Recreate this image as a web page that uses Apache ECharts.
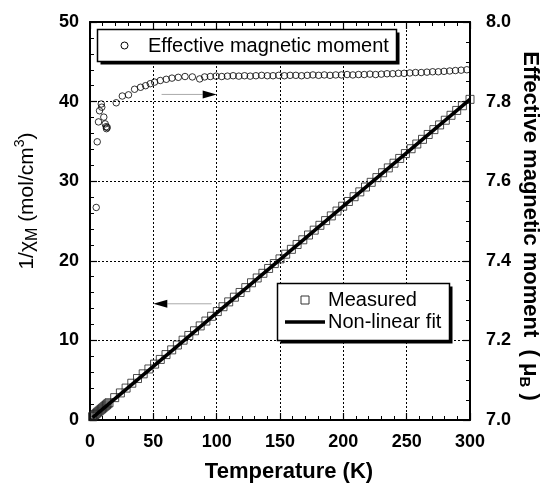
<!DOCTYPE html>
<html><head><meta charset="utf-8">
<script src="https://cdn.jsdelivr.net/npm/echarts@6/dist/echarts.min.js"></script>
<style>html,body{margin:0;padding:0;background:#fff}#c{width:541px;height:483px}</style>
</head><body><div id="c"></div>
<script>
// ---- data ----
const tempMeasured = [
  2,3,4,5,6,7,8,9,10,11,12,13,14,15,
  19.5,24,28.5,33,37.5,42,46.5,51,55.5,60,
  64.5,69,73.5,78,82.5,87,91.5,96,100.5,105,
  109.5,114,118.5,123,127.5,132,136.5,141,145.5,150,
  154.5,159,163.5,168,172.5,177,181.5,186,190.5,195,
  199.5,204,208.5,213,217.5,222,226.5,231,235.5,240,
  244.5,249,253.5,258,262.5,267,271.5,276,280.5,285,
  289.5,294,300
];
const invChi = [
  0.42,0.55,0.69,0.83,0.97,1.10,1.24,1.37,1.50,1.64,1.77,1.90,2.04,2.17,
  2.81,3.40,4.01,4.62,5.21,5.80,6.41,7.02,7.61,8.22,
  8.81,9.42,10.03,10.62,11.21,11.82,12.43,13.03,13.62,14.23,
  14.84,15.43,16.02,16.63,17.24,17.84,18.43,19.04,19.65,20.24,
  20.83,21.44,22.05,22.64,23.24,23.85,24.46,25.05,25.64,26.25,
  26.86,27.45,28.05,28.66,29.27,29.86,30.45,31.06,31.67,32.26,
  32.86,33.47,34.08,34.67,35.26,35.87,36.48,37.07,37.66,38.28,
  38.89,39.48,40.28
];
const fitTemp = [2, 300];
const fitInvChi = [0.30, 40.28];
const tempMoment = [
  4.9,5.7,6.7,7.5,8.9,9.3,10.9,12.0,12.8,13.0,13.6,
  20.7,25.5,30.4,35.2,39.9,43.9,47.6,51.0,55.5,60.2,64.7,69.7,75.0,80.8,86.6,90.5,95.0,
  99.5,104,108.5,113,117.5,122,126.5,131,135.5,140,
  144.5,149,153.5,158,162.5,167,171.5,176,180.5,185,
  189.5,194,198.5,203,207.5,212,216.5,221,225.5,230,
  234.5,239,243.5,248,252.5,257,261.5,266,270.5,275,
  279.5,284,288.5,293,297.5
];
const moment = [
  7.534,7.699,7.749,7.777,7.794,7.786,7.761,7.744,7.737,7.732,7.735,
  7.797,7.814,7.817,7.831,7.836,7.840,7.845,7.849,7.853,7.856,7.859,7.861,7.863,7.862,7.857,7.862,7.863,
  7.864,7.863,7.864,7.865,7.864,7.865,7.864,7.865,7.866,7.865,
  7.865,7.866,7.865,7.866,7.866,7.865,7.866,7.867,7.866,7.867,
  7.866,7.867,7.867,7.868,7.867,7.868,7.868,7.869,7.868,7.869,
  7.870,7.870,7.871,7.871,7.872,7.873,7.873,7.874,7.875,7.875,
  7.876,7.877,7.878,7.879,7.880
];
const xRange = [0, 300, 50];
const leftRange = [0, 50, 10];
const rightRange = [7.0, 8.0, 0.2];
const seriesNames = ['Effective magnetic moment', 'Measured', 'Non-linear fit'];
// arrow annotations in (temperature, left-axis) units: [fromT, toT, level]
const arrowMoment = [56.5, 100, 40.9];
const arrowInvChi = [96, 50, 14.6];

const FONT = "Arial, 'Liberation Sans', Helvetica, sans-serif";
const zip = (a, b) => a.map((v, i) => [v, b[i]]);

const chart = echarts.init(document.getElementById('c'), null, {renderer: 'canvas'});

const axisLine = {show: true, onZero: false, lineStyle: {color: '#000', width: 2}};
const tickLbl = {fontSize: 18, fontWeight: 'bold', color: '#000', fontFamily: FONT};
const dotted = {show: true, lineStyle: {color: '#000', width: 1, type: [2, 2]}};
const majorTick = {inside: true, length: 7, lineStyle: {color: '#000', width: 1.2}};

chart.setOption({
  animation: false,
  backgroundColor: '#fff',
  grid: {left: 90, right: 71, top: 22, bottom: 63},
  xAxis: [
    {type: 'value', position: 'bottom', min: xRange[0], max: xRange[1], interval: xRange[2],
     axisLine, axisTick: majorTick,
     minorTick: {show: true, splitNumber: 5, length: 4, lineStyle: {color: '#000', width: 1}},
     axisLabel: Object.assign({margin: 13}, tickLbl), splitLine: dotted},
    {type: 'value', position: 'top', min: xRange[0], max: xRange[1], interval: xRange[2],
     axisLine, axisTick: majorTick,
     minorTick: {show: true, splitNumber: 5, length: 4, lineStyle: {color: '#000', width: 1}},
     axisLabel: {show: false}, splitLine: {show: false}}
  ],
  yAxis: [
    {type: 'value', position: 'left', min: leftRange[0], max: leftRange[1], interval: leftRange[2],
     axisLine, axisTick: majorTick,
     minorTick: {show: true, splitNumber: 5, length: 4, lineStyle: {color: '#000', width: 1}},
     axisLabel: Object.assign({margin: 11}, tickLbl), splitLine: dotted},
    {type: 'value', position: 'right', min: rightRange[0], max: rightRange[1], interval: rightRange[2],
     axisLine, axisTick: majorTick,
     minorTick: {show: true, splitNumber: 4, length: 4, lineStyle: {color: '#000', width: 1}},
     axisLabel: Object.assign({margin: 16, formatter: v => v.toFixed(1)}, tickLbl), splitLine: {show: false}}
  ],
  series: [
    {name: seriesNames[1], type: 'scatter', xAxisIndex: 0, yAxisIndex: 0, data: zip(tempMeasured, invChi),
     symbol: 'rect', symbolSize: 8, z: 2,
     itemStyle: {color: 'rgba(255,255,255,0)', borderColor: '#222', borderWidth: 1}},
    {name: seriesNames[2], type: 'line', xAxisIndex: 0, yAxisIndex: 0, data: zip(fitTemp, fitInvChi),
     symbol: 'none', showSymbol: false, z: 3, lineStyle: {color: '#000', width: 3.6}, itemStyle: {color: '#000'}},
    {name: seriesNames[0], type: 'scatter', xAxisIndex: 0, yAxisIndex: 1, data: zip(tempMoment, moment),
     symbol: 'circle', symbolSize: 6.5, z: 2,
     itemStyle: {color: 'rgba(255,255,255,0)', borderColor: '#000', borderWidth: 1}}
  ]
});

function arrow(spec) {
  const from = chart.convertToPixel({xAxisIndex: 0, yAxisIndex: 0}, [spec[0], spec[2]]);
  const tip = chart.convertToPixel({xAxisIndex: 0, yAxisIndex: 0}, [spec[1], spec[2]]);
  const dir = tip[0] > from[0] ? 1 : -1;
  const headLen = 14, half = 4;
  const base = tip[0] - dir * headLen;
  return [
    {type: 'line', shape: {x1: from[0], y1: from[1], x2: base, y2: tip[1]}, style: {stroke: '#aaa', lineWidth: 1}, z: 10},
    {type: 'polygon', shape: {points: [[tip[0], tip[1]], [base, tip[1] - half], [base, tip[1] + half]]}, style: {fill: '#000'}, z: 10}
  ];
}

function legendBox(x, y, w, h) {
  return [
    {type: 'rect', shape: {x: x + 3, y: y + 3, width: w, height: h}, style: {fill: '#000'}, z: 20},
    {type: 'rect', shape: {x: x, y: y, width: w, height: h}, style: {fill: '#fff', stroke: '#000', lineWidth: 1.5}, z: 21}
  ];
}
function legendText(txt, x, y) {
  return {type: 'text', x: x, y: y, z: 22,
    style: {text: txt, font: '20px ' + FONT, fill: '#000', align: 'left', verticalAlign: 'middle'}};
}

chart.setOption({
  graphic: [].concat(
    arrow(arrowMoment), arrow(arrowInvChi),
    legendBox(97.5, 29.5, 299, 32),
    [{type: 'circle', shape: {cx: 124.5, cy: 45.5, r: 3.5}, style: {fill: 'none', stroke: '#000', lineWidth: 1}, z: 22},
     legendText(seriesNames[0], 148, 46)],
    legendBox(277.5, 283.5, 172, 57),
    [{type: 'rect', shape: {x: 301, y: 296, width: 8, height: 8}, style: {fill: 'none', stroke: '#333', lineWidth: 1}, z: 22},
     legendText(seriesNames[1], 328, 300.5),
     {type: 'line', shape: {x1: 285, y1: 322, x2: 325, y2: 322}, style: {stroke: '#000', lineWidth: 3.6}, z: 22},
     legendText(seriesNames[2], 328, 322)],
    [
    {type: 'text', x: 289, y: 472, z: 10,
     style: {text: 'Temperature (K)', font: "bold 22px " + FONT, fill: '#000', align: 'center', verticalAlign: 'middle'}},
    {type: 'text', x: 27, y: 201, rotation: Math.PI / 2, z: 10,
     style: {text: '{a|1/χ}{s|M}{a| (mol/cm}{p|3}{a|)}', align: 'center', verticalAlign: 'middle',
       rich: {a: {fontSize: 21, fontFamily: FONT, fill: '#000'},
              s: {fontSize: 16, fontFamily: FONT, fill: '#000', verticalAlign: 'bottom', padding: [12, 0, 0, 0]},
              p: {fontSize: 14, fontFamily: FONT, fill: '#000', verticalAlign: 'top'}}}},
    {type: 'text', x: 530, y: 226, rotation: -Math.PI / 2, z: 10,
     style: {text: '{a|Effective magnetic moment  ( μ}{s|B}{a| )}', align: 'center', verticalAlign: 'middle',
       rich: {a: {fontSize: 22, fontWeight: 'bold', fontFamily: FONT, fill: '#000'},
              s: {fontSize: 15, fontWeight: 'bold', fontFamily: FONT, fill: '#000', verticalAlign: 'bottom', padding: [12, 0, 0, 0]}}}}
  ])
});
</script>
</body></html>
